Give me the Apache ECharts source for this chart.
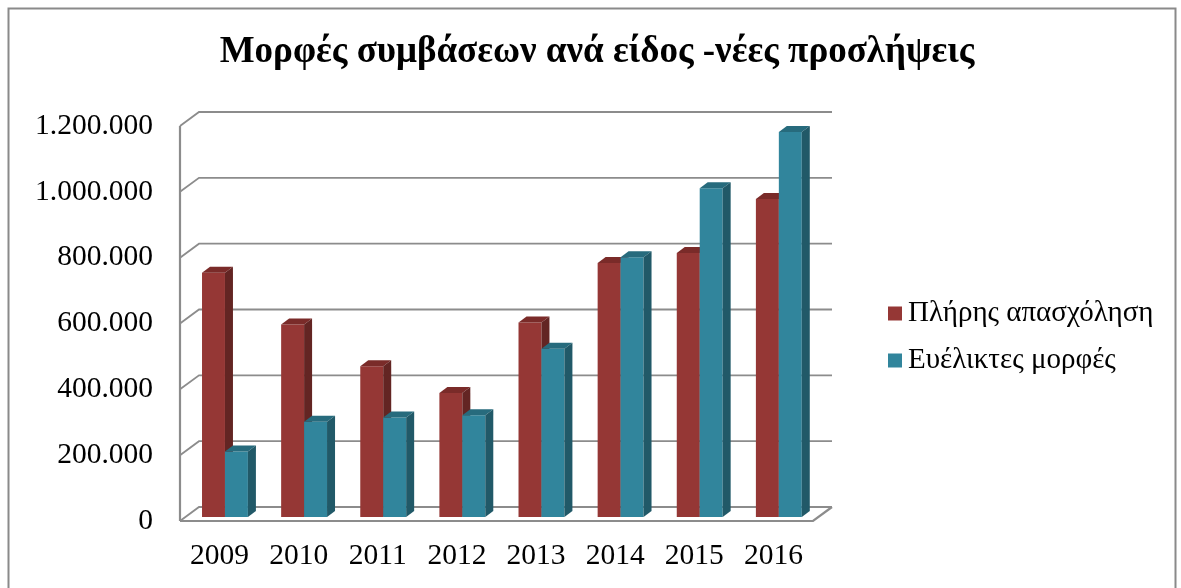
<!DOCTYPE html>
<html>
<head>
<meta charset="utf-8">
<script src="https://cdn.jsdelivr.net/npm/echarts@6/dist/echarts.min.js"></script>
<style>html,body{margin:0;padding:0;background:#fff}#c{width:1181px;height:588px}</style>
</head>
<body>
<div id="c"></div>
<script>
const years = ['2009','2010','2011','2012','2013','2014','2015','2016'];
const fullTime = [742000, 585000, 458000, 377000, 591000, 772000, 802000, 966000];
const flexible = [199000, 289000, 302000, 309000, 511000, 789000, 999000, 1170000];
const yTicks = [0, 200000, 400000, 600000, 800000, 1000000, 1200000];
const seriesNames = ['Πλήρης απασχόληση', 'Ευέλικτες μορφές'];
const titleText = 'Μορφές συμβάσεων ανά είδος -νέες προσλήψεις';

const FONT = "'Liberation Serif','Times New Roman',serif";
const FRONT_DX = -5.4, FRONT_DY = 4, BACK_DX = 13.6, BACK_DY = -10;
const BAR_DX = 8, BAR_DY = -6;
const LINE = '#8c8c8c';
const palettes = [
  {front: '#953735', top: '#7a2b29', side: '#632523'},
  {front: '#31859c', top: '#276b7d', side: '#215968'}
];

function fmt(v){ return String(v).replace(/\B(?=(\d{3})+(?!\d))/g, '.'); }

function renderWall(params, api){
  const cs = params.coordSys;
  const v = api.value(1);
  const y = api.coord([0, v])[1];
  const y0 = api.coord([0, 0])[1];
  const right = cs.x + cs.width;
  const style = {stroke: LINE, lineWidth: 1.8, fill: null};
  const children = [{
    type: 'polyline',
    shape: {points: [[cs.x + FRONT_DX, y + FRONT_DY], [cs.x + BACK_DX, y + BACK_DY], [right + BACK_DX, y + BACK_DY]]},
    style: style
  }];
  if (v === 0) {
    children.push({
      type: 'polyline',
      shape: {points: [[cs.x + FRONT_DX, y + FRONT_DY], [right + FRONT_DX, y + FRONT_DY], [right + BACK_DX, y + BACK_DY]]},
      style: {stroke: LINE, lineWidth: 2.2, fill: null}
    });
  }
  if (v === yTicks[yTicks.length - 1]) {
    children.push({
      type: 'line',
      shape: {x1: cs.x + FRONT_DX, y1: y + FRONT_DY, x2: cs.x + FRONT_DX, y2: y0 + FRONT_DY},
      style: {stroke: LINE, lineWidth: 2.2}
    });
  }
  return {type: 'group', children: children};
}

function renderBar(params, api){
  const idx = api.value(0);
  const v = api.value(1);
  const base = api.coord([idx, 0]);
  const top = api.coord([idx, v]);
  const catW = api.size([1, 0])[0];
  const bw = catW * 0.29;
  const x0 = params.seriesIndex === 1 ? base[0] - bw : base[0];
  const pal = palettes[params.seriesIndex - 1];
  const ty = top[1], by = base[1];
  return {
    type: 'group',
    children: [
      {type: 'rect', shape: {x: x0, y: ty, width: bw, height: by - ty}, style: {fill: pal.front}},
      {type: 'polygon', shape: {points: [[x0, ty], [x0 + bw, ty], [x0 + bw + BAR_DX, ty + BAR_DY], [x0 + BAR_DX, ty + BAR_DY]]}, style: {fill: pal.top}},
      {type: 'polygon', shape: {points: [[x0 + bw, ty], [x0 + bw + BAR_DX, ty + BAR_DY], [x0 + bw + BAR_DX, by + BAR_DY], [x0 + bw, by]]}, style: {fill: pal.side}}
    ]
  };
}

const chart = echarts.init(document.getElementById('c'), null, {renderer: 'canvas'});
chart.setOption({
  animation: false,
  backgroundColor: '#ffffff',
  title: {
    text: titleText,
    left: 592, top: 29, textAlign: 'center',
    textStyle: {fontFamily: FONT, fontWeight: 'bold', fontSize: 37, color: '#000'}
  },
  legend: {
    orient: 'vertical', left: 883, top: 294,
    itemWidth: 14, itemHeight: 14, itemGap: 18, icon: 'rect',
    data: seriesNames,
    textStyle: {fontFamily: FONT, fontSize: 29, color: '#000', lineHeight: 29, padding: [0, 0, 0, 1]}
  },
  grid: [
    {left: 185.4, width: 633, top: 122, height: 395},
    {left: 180, width: 633, top: 126, height: 395}
  ],
  xAxis: [
    {type: 'category', data: years, gridIndex: 0, show: false},
    {
      type: 'category', data: years, gridIndex: 1,
      axisLine: {show: false}, axisTick: {show: false},
      axisLabel: {fontFamily: FONT, fontSize: 29.5, color: '#000', margin: 20}
    }
  ],
  yAxis: [
    {type: 'value', min: 0, max: 1200000, interval: 200000, gridIndex: 0, show: false, splitLine: {show: false}},
    {
      type: 'value', min: 0, max: 1200000, interval: 200000, gridIndex: 1,
      splitLine: {show: false}, axisLine: {show: false}, axisTick: {show: false},
      axisLabel: {fontFamily: FONT, fontSize: 29.5, color: '#000', margin: 27, formatter: fmt}
    }
  ],
  graphic: [{
    type: 'rect', silent: true,
    shape: {x: 8.5, y: 8.5, width: 1167, height: 620},
    style: {fill: null, stroke: '#8a8a8a', lineWidth: 2}
  }],
  series: [
    {type: 'custom', name: 'wall', renderItem: renderWall, data: yTicks.map(v => [0, v]), encode: {x: 0, y: 1}, xAxisIndex: 0, yAxisIndex: 0, z: 1, silent: true},
    {type: 'custom', name: seriesNames[0], renderItem: renderBar, data: fullTime.map((v, i) => [i, v]), encode: {x: 0, y: 1}, xAxisIndex: 0, yAxisIndex: 0, itemStyle: {color: palettes[0].front}, z: 2},
    {type: 'custom', name: seriesNames[1], renderItem: renderBar, data: flexible.map((v, i) => [i, v]), encode: {x: 0, y: 1}, xAxisIndex: 0, yAxisIndex: 0, itemStyle: {color: palettes[1].front}, z: 2}
  ]
});
</script>
</body>
</html>
